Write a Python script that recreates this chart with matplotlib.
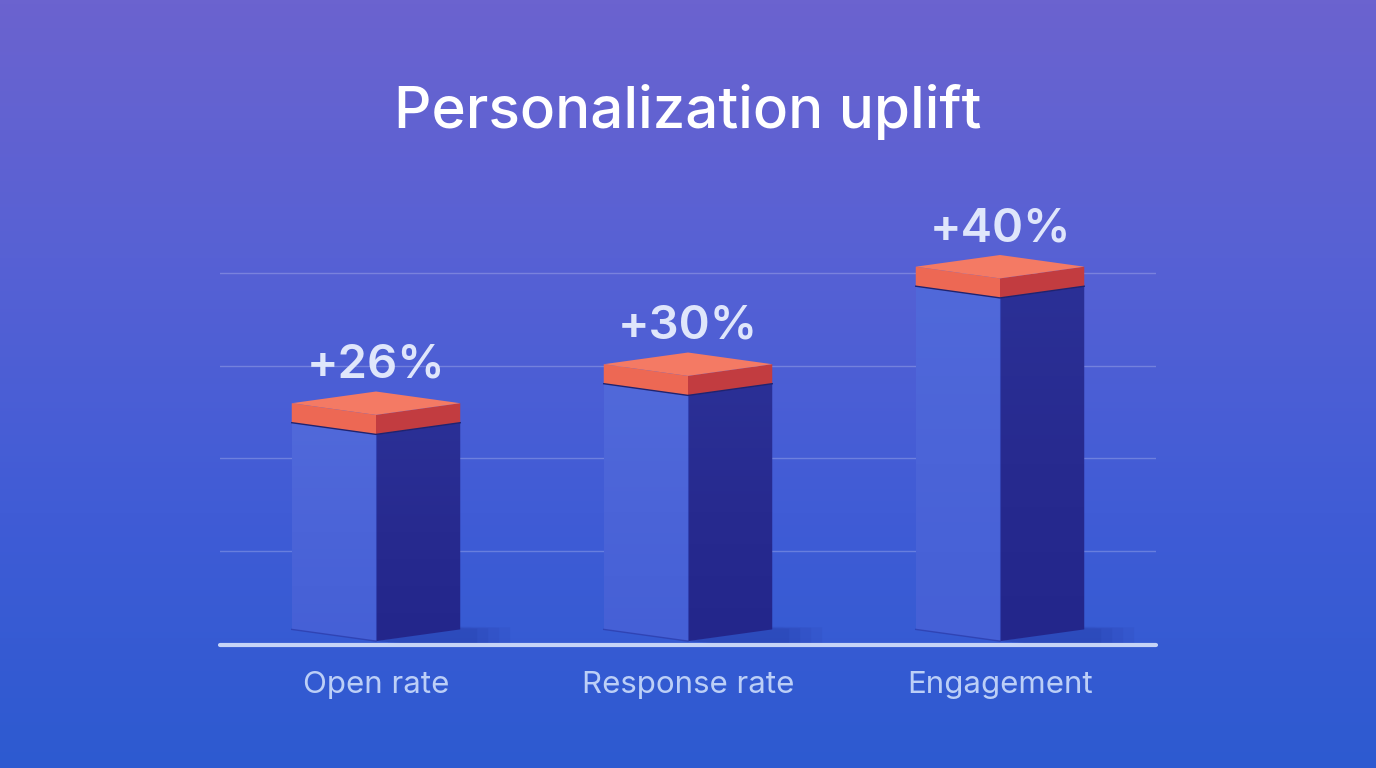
import numpy as np
import matplotlib.pyplot as plt
from matplotlib.patches import Polygon
from matplotlib.colors import LinearSegmentedColormap

plt.rcParams['font.family'] = ['Inter', 'DejaVu Sans']

# data
categories = ["Open rate", "Response rate", "Engagement"]
uplift = [26, 30, 40]
value_labels = ["+26%", "+30%", "+40%"]
grid_levels = [9.6, 19.2, 28.6, 38.2]

# box look (x in category units, y in value units)
HALF = 0.27     # half width of the box
DEPTH = 1.2     # isometric slope of the top/bottom edges
CAP = 2.0       # thickness of the red cap
FOOT = 0.4

fig = plt.figure(figsize=(13.76, 7.68), dpi=100)

# background gradient
bg = fig.add_axes([0, 0, 1, 1], zorder=-1)
bg_cmap = LinearSegmentedColormap.from_list(
    "bg", ["#6b63cf", "#5761d4", "#405cd6", "#2d5ad0"])
grad = np.linspace(0, 1, 256).reshape(-1, 1)
bg.imshow(grad, aspect='auto', cmap=bg_cmap, extent=[0, 1, 0, 1], origin='upper')
bg.set_axis_off()

ax = fig.add_axes([220 / 1376, 123 / 768, 936 / 1376, 438.75 / 768])
ax.set_facecolor('none')

for g in grid_levels:
    ax.axhline(g, color='white', alpha=0.22, lw=1, zorder=0)
ax.axhline(0, color='#c6d4f7', lw=3, solid_capstyle='round', zorder=5, clip_on=False)

left_cmap = LinearSegmentedColormap.from_list("lf", ["#4560d6", "#4b64d8", "#5169da"])
right_cmap = LinearSegmentedColormap.from_list("rf", ["#23268b", "#272a8f", "#2b3096"])
vgrad = np.linspace(0, 1, 128).reshape(-1, 1)

for i, v in enumerate(uplift):
    l, c, r = i - HALF, i, i + HALF
    top_back = v
    top_side = v - DEPTH
    top_front = v - 2 * DEPTH
    cap_side = top_side - CAP
    cap_front = top_front - CAP
    bot_front = FOOT
    bot_side = FOOT + DEPTH

    # soft shadow on the floor
    for k, a in enumerate([0.06, 0.06, 0.07, 0.08]):
        s = 1 - k * 0.22
        ax.add_patch(Polygon([(c, bot_front), (r, bot_side + 0.3 * s),
                              (r + 0.16 * s, bot_side + 0.2 * s), (r + 0.16 * s, 0.2),
                              (c + 0.1, 0.15)],
                             closed=True, fc='#15207a', ec='none', alpha=a, zorder=2))
    # left (lit) face
    lf = Polygon([(l, bot_side), (c, bot_front), (c, cap_front), (l, cap_side)],
                 closed=True, fc='none', ec='none', zorder=3)
    ax.add_patch(lf)
    im = ax.imshow(vgrad, cmap=left_cmap, aspect='auto', origin='lower',
                   extent=[l, c, bot_front, cap_side], zorder=3)
    im.set_clip_path(lf)
    # right (dark) face
    rf = Polygon([(c, bot_front), (r, bot_side), (r, cap_side), (c, cap_front)],
                 closed=True, fc='none', ec='none', zorder=3)
    ax.add_patch(rf)
    im = ax.imshow(vgrad, cmap=right_cmap, aspect='auto', origin='lower',
                   extent=[c, r, bot_front, cap_side], zorder=3)
    im.set_clip_path(rf)
    ax.plot([c, c], [bot_front, cap_front], color='#3a52c8', lw=0.8, alpha=0.6, zorder=3)
    ax.plot([l, c], [bot_side, bot_front], color='#2a3aa8', lw=1, alpha=0.7, zorder=3)
    # cap sides
    ax.add_patch(Polygon([(l, cap_side), (c, cap_front), (c, top_front), (l, top_side)],
                         closed=True, fc='#ed6854', ec='none', zorder=4))
    ax.add_patch(Polygon([(c, cap_front), (r, cap_side), (r, top_side), (c, top_front)],
                         closed=True, fc='#c23c40', ec='none', zorder=4))
    # cap top
    ax.add_patch(Polygon([(l, top_side), (c, top_front), (r, top_side), (c, top_back)],
                         closed=True, fc='#f47a64', ec='none', zorder=4))
    # seam between body and cap
    ax.plot([l, c, r], [cap_side, cap_front, cap_side], color='#1f2370', lw=1, zorder=4)

    ax.text(i, v + 1.4, value_labels[i], ha='center', va='baseline',
            fontsize=34, fontweight='semibold', color='#dfe6fb', zorder=6)
    ax.text(i, -4.1, categories[i], ha='center', va='center',
            fontsize=22.5, color='#bccff7', zorder=6)

ax.set_xlim(-0.5, 2.5)
ax.set_ylim(0, 45)
for s in ax.spines.values():
    s.set_visible(False)
ax.set_xticks([])
ax.set_yticks([])

fig.text(0.5, 1 - 112 / 768, "Personalization uplift", ha='center', va='center',
         fontsize=42, fontweight='medium', color='white')

fig.savefig("out.png", dpi=100)
